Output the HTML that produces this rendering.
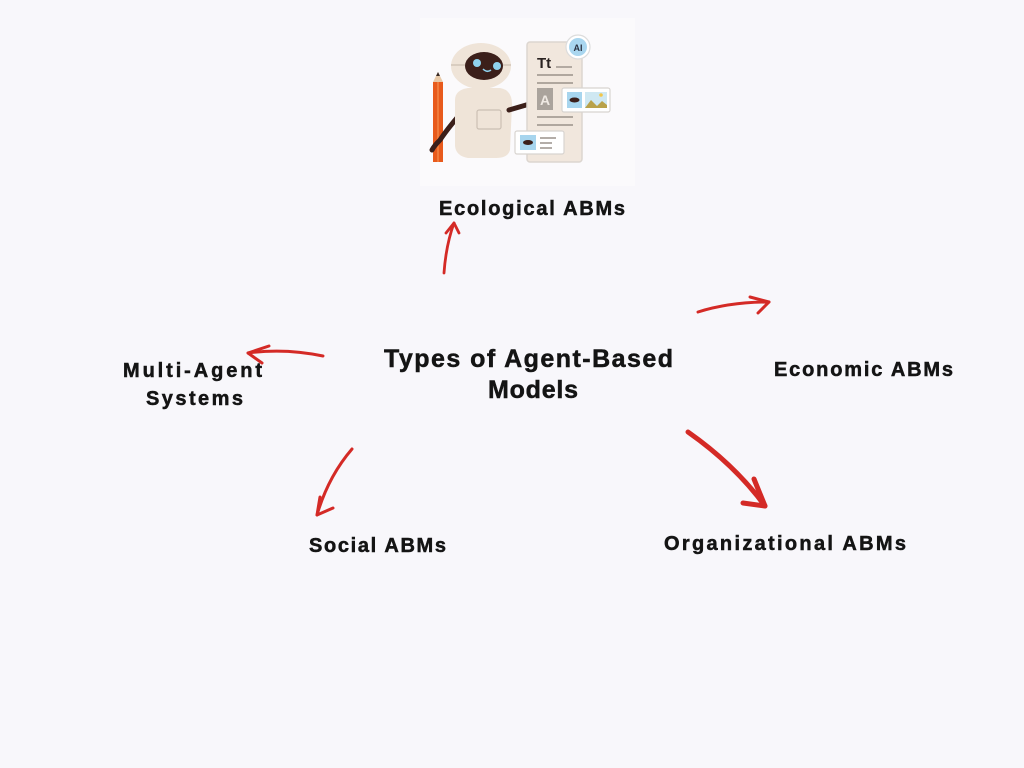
<!DOCTYPE html>
<html>
<head>
<meta charset="utf-8">
<style>
html,body{margin:0;padding:0;background:#f8f7fb;}
svg{display:block;}
text{font-family:"Liberation Sans",Arial,sans-serif;font-weight:bold;fill:#141414;}
.lbl{stroke:#141414;stroke-width:0.5;}
</style>
</head>
<body>
<svg width="1024" height="768" viewBox="0 0 1024 768" xmlns="http://www.w3.org/2000/svg">
<rect x="0" y="0" width="1024" height="768" fill="#f8f7fb"/>

<!-- Illustration -->
<g>
  <rect x="420" y="18" width="215" height="168" fill="#fbfafc"/>
  <!-- pencil -->
  <polygon points="433,82 438,72 443,82" fill="#e8c9a8"/>
  <polygon points="436,76 438,72 440,76" fill="#3a2a24"/>
  <rect x="433" y="82" width="10" height="80" fill="#e85a1c"/>
  <rect x="437" y="82" width="2" height="80" fill="#f07a3a"/>
  <!-- left arm -->
  <path d="M462,112 Q448,128 440,140 Q434,146 432,150" stroke="#3b1f1a" stroke-width="5" fill="none" stroke-linecap="round"/>
  <!-- body -->
  <path d="M455,100 Q455,90 468,88 L500,88 Q512,90 512,104 L510,150 Q508,158 496,158 L468,158 Q456,156 455,146 Z" fill="#efe4d8"/>
  <rect x="477" y="110" width="24" height="19" rx="2" fill="none" stroke="#cbbfb3" stroke-width="1.2"/>
  <!-- right arm -->
  <path d="M509,110 L533,103" stroke="#3b1f1a" stroke-width="5" fill="none" stroke-linecap="round"/>
  <!-- head -->
  <ellipse cx="481" cy="66" rx="30" ry="23" fill="#efe4d8"/>
  <rect x="451" y="64" width="60" height="2" fill="#d9cdc0"/>
  <ellipse cx="484" cy="66" rx="19" ry="14" fill="#3b1f1a"/>
  <circle cx="477" cy="63" r="4" fill="#8fd2ee"/>
  <circle cx="497" cy="66" r="4" fill="#8fd2ee"/>
  <path d="M483,69 Q487,73 491,70" stroke="#8fd2ee" stroke-width="1.5" fill="none"/>
  <!-- document -->
  <rect x="527" y="42" width="55" height="120" rx="3" fill="#f1e7dd" stroke="#dcd6d0" stroke-width="1.5"/>
  <text x="537" y="68" font-size="15" style="fill:#2a2220;font-weight:bold">Tt</text>
  <line x1="556" y1="67" x2="572" y2="67" stroke="#8a817a" stroke-width="1.2"/>
  <line x1="537" y1="75" x2="573" y2="75" stroke="#8a817a" stroke-width="1.2"/>
  <line x1="537" y1="83" x2="573" y2="83" stroke="#8a817a" stroke-width="1.2"/>
  <line x1="537" y1="117" x2="573" y2="117" stroke="#8a817a" stroke-width="1.2"/>
  <line x1="537" y1="125" x2="573" y2="125" stroke="#8a817a" stroke-width="1.2"/>
  <rect x="537" y="88" width="16" height="22" fill="#aaa39c"/>
  <text x="540" y="105" font-size="14" style="fill:#efe9e3;font-weight:bold">A</text>
  <!-- image card -->
  <rect x="562" y="88" width="48" height="24" rx="2" fill="#ffffff" stroke="#d8d4d0" stroke-width="1.2"/>
  <rect x="567" y="92" width="15" height="16" fill="#a7d5ee"/>
  <ellipse cx="574.5" cy="100" rx="5" ry="2.5" fill="#3b1f1a"/>
  <rect x="585" y="92" width="22" height="16" fill="#cfe8f2"/>
  <path d="M585,108 L591,100 L597,106 L602,101 L607,105 L607,108 Z" fill="#b9a24a"/>
  <circle cx="601" cy="95" r="1.8" fill="#f2c64a"/>
  <!-- bottom card -->
  <rect x="515" y="131" width="49" height="23" rx="2" fill="#ffffff" stroke="#d8d4d0" stroke-width="1.2"/>
  <rect x="520" y="135" width="16" height="15" fill="#a7d5ee"/>
  <ellipse cx="528" cy="142.5" rx="5" ry="2.5" fill="#3b1f1a"/>
  <line x1="540" y1="138" x2="556" y2="138" stroke="#8a817a" stroke-width="1.3"/>
  <line x1="540" y1="143" x2="552" y2="143" stroke="#8a817a" stroke-width="1.3"/>
  <line x1="540" y1="148" x2="552" y2="148" stroke="#8a817a" stroke-width="1.3"/>
  <!-- AI badge -->
  <circle cx="578" cy="47" r="12" fill="#ffffff" stroke="#dcdcdc" stroke-width="1.2"/>
  <circle cx="578" cy="47" r="9" fill="#a9d6ef"/>
  <text x="578" y="51" font-size="9" text-anchor="middle" style="fill:#2a3140;font-weight:bold">AI</text>
</g>

<!-- Labels -->
<text class="lbl" x="384" y="367" font-size="25" textLength="289" lengthAdjust="spacing">Types of Agent-Based</text>
<text class="lbl" x="488" y="398" font-size="25" textLength="90" lengthAdjust="spacing">Models</text>

<text class="lbl" x="439" y="215" font-size="20" textLength="186" lengthAdjust="spacing">Ecological ABMs</text>
<text class="lbl" x="774" y="376" font-size="20" textLength="179" lengthAdjust="spacing">Economic ABMs</text>
<text class="lbl" x="664" y="550" font-size="20" textLength="242" lengthAdjust="spacing">Organizational ABMs</text>
<text class="lbl" x="309" y="552" font-size="20" textLength="137" lengthAdjust="spacing">Social ABMs</text>
<text class="lbl" x="123" y="377" font-size="20" textLength="139" lengthAdjust="spacing">Multi-Agent</text>
<text class="lbl" x="146" y="405" font-size="20" textLength="97" lengthAdjust="spacing">Systems</text>

<!-- Arrows -->
<g stroke="#d42a26" fill="none" stroke-linecap="round" stroke-linejoin="round">
  <!-- up -->
  <path d="M444,273 Q446,245 454,223" stroke-width="2.8"/>
  <path d="M446,233 L454,223 L459,233" stroke-width="2.8"/>
  <!-- right top -->
  <path d="M698,312 Q730,302 769,302" stroke-width="3"/>
  <path d="M750,297 L769,302 L758,313" stroke-width="3"/>
  <!-- down right -->
  <path d="M688,432 Q735,465 765,506" stroke-width="5"/>
  <path d="M754,479 L765,506 L743,503" stroke-width="5"/>
  <!-- left -->
  <path d="M323,356 Q285,348 248,353" stroke-width="3"/>
  <path d="M269,346 L248,353 L262,363" stroke-width="3"/>
  <!-- down left -->
  <path d="M352,449 Q328,477 317,515" stroke-width="3"/>
  <path d="M320,497 L317,515 L333,508" stroke-width="3"/>
</g>
</svg>
</body>
</html>
